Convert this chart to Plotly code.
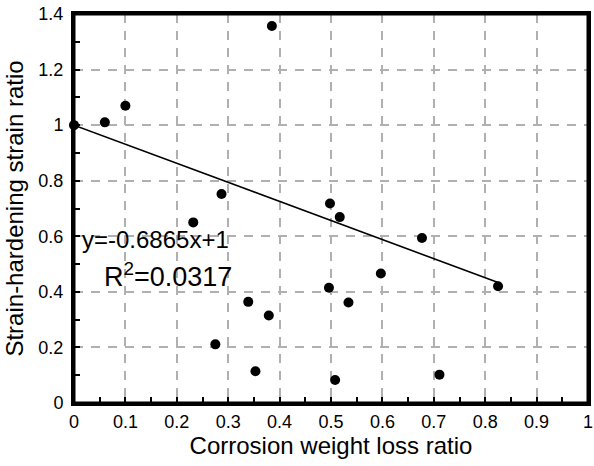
import plotly.graph_objects as go

# Data
corrosion_loss = [0.0, 0.06, 0.10, 0.385, 0.287, 0.232, 0.498, 0.517, 0.677, 0.597,
                  0.496, 0.534, 0.825, 0.508, 0.711, 0.339, 0.379, 0.275, 0.353]
strain_ratio = [1.0, 1.01, 1.07, 1.357, 0.752, 0.650, 0.718, 0.669, 0.594, 0.466,
                0.415, 0.362, 0.420, 0.083, 0.102, 0.364, 0.315, 0.211, 0.114]

slope = -0.6865
intercept = 1.0
fit_x = [0.0, 0.825]
fit_y = [intercept + slope * v for v in fit_x]

x_ticks = [0, 0.1, 0.2, 0.3, 0.4, 0.5, 0.6, 0.7, 0.8, 0.9, 1]
x_labels = ["0", "0.1", "0.2", "0.3", "0.4", "0.5", "0.6", "0.7", "0.8", "0.9", "1"]
y_ticks = [0, 0.2, 0.4, 0.6, 0.8, 1.0, 1.2, 1.4]
y_labels = ["0", "0.2", "0.4", "0.6", "0.8", "1", "1.2", "1.4"]

font = "Liberation Sans, Arial, sans-serif"

fig = go.Figure()
fig.add_trace(go.Scatter(x=fit_x, y=fit_y, mode="lines",
                         line=dict(color="black", width=1.6), showlegend=False))
fig.add_trace(go.Scatter(x=corrosion_loss, y=strain_ratio, mode="markers",
                         marker=dict(color="black", size=10), showlegend=False,
                         cliponaxis=False))

axis_common = dict(
    showline=True, linecolor="#000000", linewidth=3, mirror=True,
    showgrid=True, gridcolor="#b0b0b0", gridwidth=1.8, griddash="9px,8px",
    ticks="", automargin=False,
    zeroline=False, tickfont=dict(size=18, color="black", family=font),
)

fig.update_xaxes(range=[0, 1], tickvals=x_ticks, ticktext=x_labels,
                 minor=dict(dtick=0.05, tick0=0, ticks="inside", ticklen=6,
                            tickwidth=2, tickcolor="#000000", showgrid=False),
                 ticklabelstandoff=0,
                 title=dict(text="Corrosion weight loss ratio",
                            font=dict(size=24, color="black", family=font), standoff=6),
                 **axis_common)
fig.update_yaxes(range=[0, 1.4], tickvals=y_ticks, ticktext=y_labels,
                 minor=dict(dtick=0.1, tick0=0, ticks="inside", ticklen=6,
                            tickwidth=2, tickcolor="#000000", showgrid=False),
                 ticklabelstandoff=4,
                 title=dict(text="Strain-hardening strain ratio",
                            font=dict(size=24, color="black", family=font), standoff=8),
                 **axis_common)

# plot frame
fig.add_shape(type="rect", xref="x domain", yref="y domain", x0=0, y0=0, x1=1, y1=1,
              line=dict(color="#000000", width=3), fillcolor="rgba(0,0,0,0)",
              layer="above")

fig.add_annotation(x=0.158, y=0.587, xref="x", yref="y", text="y=-0.6865x+1",
                   showarrow=False, font=dict(size=24, color="black", family=font))
fig.add_annotation(x=0.183, y=0.46, xref="x", yref="y", text="R<sup>2</sup>=0.0317",
                   showarrow=False, font=dict(size=27, color="black", family=font))

fig.update_layout(width=594, height=466,
                  margin=dict(l=74, r=6, t=14, b=63),
                  paper_bgcolor="white", plot_bgcolor="white",
                  font=dict(family=font, color="black"))

# remove the default 8px page margin so the figure fills the window exactly
fig.write_html("out.html",
               config={"displayModeBar": False},
               post_script="document.body.style.margin='0';document.body.style.overflow='hidden';")
